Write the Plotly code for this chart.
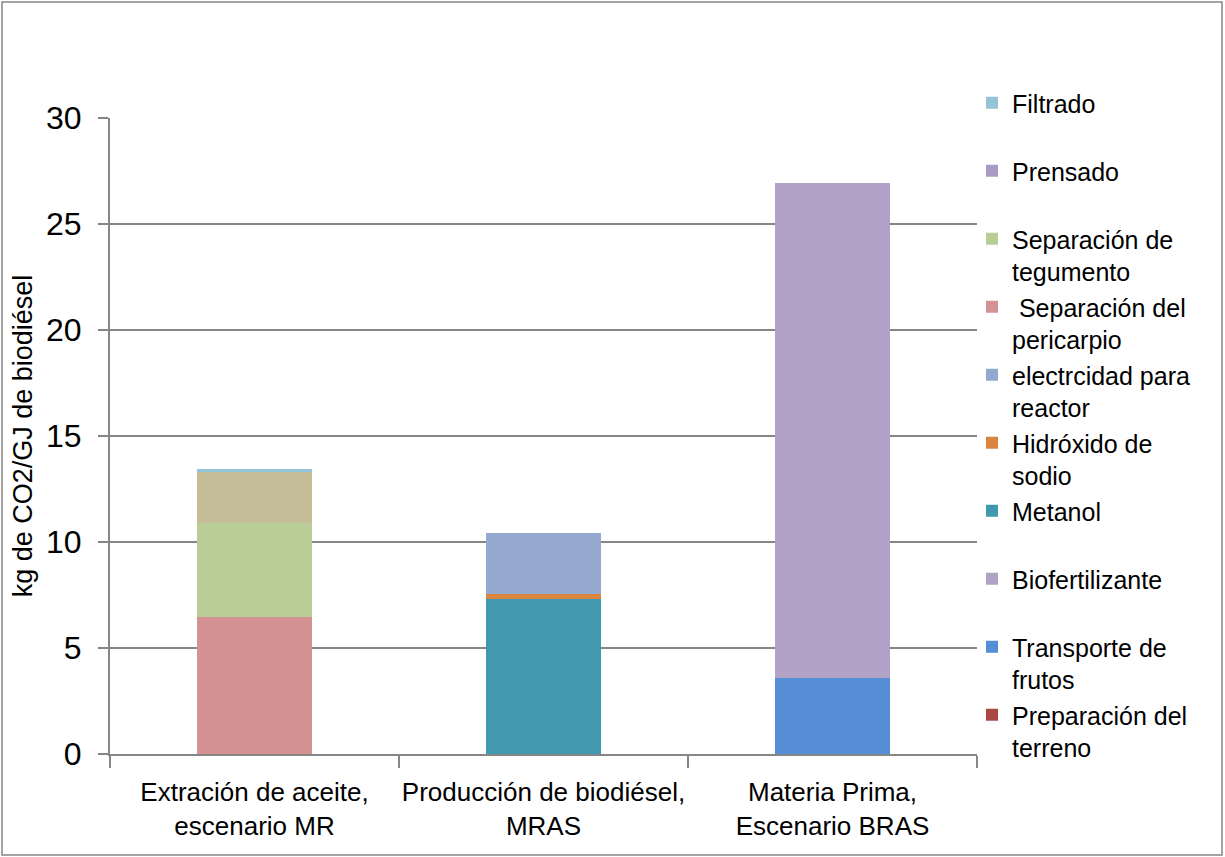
import plotly.graph_objects as go

# Categories on the x axis
categories = [
    "Extración de aceite,<br>escenario MR",
    "Producción de biodiésel,<br>MRAS",
    "Materia Prima,<br>Escenario BRAS",
]

# Emission contributions (kg CO2 / GJ biodiésel), bottom of the stack first
preparacion_terreno = [0.0, 0.0, 0.0]
transporte_frutos = [0.0, 0.0, 3.58]
biofertilizante = [0.0, 0.0, 23.35]
metanol = [0.0, 7.31, 0.0]
hidroxido_sodio = [0.0, 0.24, 0.0]
electricidad_reactor = [0.0, 2.87, 0.0]
separacion_pericarpio = [6.46, 0.0, 0.0]
separacion_tegumento = [4.45, 0.0, 0.0]
prensado = [2.41, 0.0, 0.0]
filtrado = [0.12, 0.0, 0.0]

series = [
    ("Preparación del<br>terreno", preparacion_terreno, "#AA4643"),
    ("Transporte de<br>frutos", transporte_frutos, "#558ED5"),
    ("Biofertilizante<br> ", biofertilizante, "#B3A2C7"),
    ("Metanol<br> ", metanol, "#4198AF"),
    ("Hidróxido de<br>sodio", hidroxido_sodio, "#DB843D"),
    ("electrcidad para<br>reactor", electricidad_reactor, "#95A9D0"),
    ("\u00a0Separación del<br>pericarpio", separacion_pericarpio, "#D49392"),
    ("Separación de<br>tegumento", separacion_tegumento, "#B9CD96"),
]

FONT = "Liberation Sans, Arial, sans-serif"
GRAY = "#868686"

fig = go.Figure()

n = len(series) + 2
for i, (name, vals, color) in enumerate(series):
    fig.add_trace(go.Bar(
        x=categories, y=vals, name=name, legendgroup=f"g{i}",
        legendrank=n - i,
        marker=dict(color=color, line=dict(width=0)),
    ))

# Pressing segment is drawn in tan on the bar, listed in purple in the legend
fig.add_trace(go.Bar(
    x=categories, y=prensado, name="Prensado", showlegend=False,
    legendgroup="g8", marker=dict(color="#C4BD97", line=dict(width=0)),
))
fig.add_trace(go.Bar(
    x=categories, y=[None] * len(categories), name="Prensado<br> ",
    legendgroup="g8", legendrank=2,
    marker=dict(color="#A99BC4", line=dict(width=0)),
    hoverinfo="skip",
))

fig.add_trace(go.Bar(
    x=categories, y=filtrado, name="Filtrado<br> ", legendgroup="g9",
    legendrank=1,
    marker=dict(color="#93C4D7", line=dict(width=0)),
))

W, H = 1225, 857
ml, mr, mt, mb = 110, 248, 118, 103
pw, ph = W - ml - mr, H - mt - mb

fig.update_layout(
    width=W, height=H,
    margin=dict(l=ml, r=mr, t=mt, b=mb, autoexpand=False),
    barmode="stack",
    bargap=0.6,
    plot_bgcolor="white",
    paper_bgcolor="white",
    font=dict(family=FONT, color="#000000"),
    legend=dict(
        x=(972 - ml) / pw, xanchor="left",
        yref="container", y=1 - 80 / H, yanchor="top",
        traceorder="grouped",
        tracegroupgap=0,
        valign="top",
        maxheight=820,
        font=dict(size=25, family=FONT),
        bgcolor="rgba(0,0,0,0)",
        itemwidth=30,
    ),
    xaxis=dict(
        type="category",
        showline=True, linecolor=GRAY, linewidth=2,
        ticks="outside", tickson="boundaries", ticklen=12,
        tickcolor=GRAY, tickwidth=2,
        tickangle=0,
        tickfont=dict(size=26, family=FONT),
        ticklabelstandoff=14,
        showgrid=False,
    ),
    yaxis=dict(
        range=[0, 30], tickvals=[0, 5, 10, 15, 20, 25, 30],
        showline=True, linecolor=GRAY, linewidth=2,
        ticks="outside", ticklen=10, tickcolor=GRAY, tickwidth=2,
        tickfont=dict(size=32, family=FONT),
        ticklabelstandoff=10,
        showgrid=True, gridcolor=GRAY, gridwidth=1.5,
        zeroline=False,
        title=dict(text="kg de CO2/GJ de biodiésel",
                   font=dict(size=27, family=FONT), standoff=6),
    ),
    shapes=[dict(
        type="rect", xref="paper", yref="paper",
        x0=(2 - ml) / pw, x1=(1222 - ml) / pw,
        y0=(H - mb - 855) / ph, y1=(H - mb - 2) / ph,
        line=dict(color=GRAY, width=1.5), fillcolor="rgba(0,0,0,0)",
        layer="below",
    )],
)

fig.write_html("out.html")
